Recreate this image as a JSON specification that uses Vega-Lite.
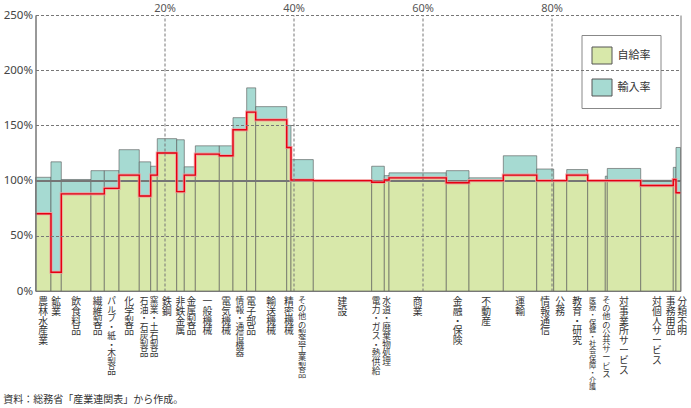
{
  "$schema": "https://vega.github.io/schema/vega-lite/v6.json",
  "width": 645,
  "height": 276,
  "autosize": "none",
  "padding": {"left": 35.5, "top": 15, "right": 10.5, "bottom": 117},
  "background": "white",
  "config": {
    "view": {"stroke": null},
    "axis": {"labelFont": "Noto Sans", "labelFontSize": 11.5, "labelColor": "#444", "gridColor": "#777", "gridWidth": 1, "domainColor": "#777", "ticks": false}
  },
  "title": {"text": "資料：総務省「産業連関表」から作成。", "orient": "bottom", "anchor": "start", "frame": "bounds", "fontSize": 10, "fontWeight": "normal", "color": "#333", "font": "Noto Sans CJK JP", "offset": 4},
  "data": {"values": [
    {"name": "農林水産業", "x0": 0, "x1": 2.40, "自給率": 70, "輸入率": 33},
    {"name": "鉱業", "x0": 2.40, "x1": 4.00, "自給率": 17, "輸入率": 100},
    {"name": "飲食料品", "x0": 4.00, "x1": 8.60, "自給率": 88, "輸入率": 13},
    {"name": "繊維製品", "x0": 8.60, "x1": 10.67, "自給率": 88, "輸入率": 21},
    {"name": "パルプ・紙・木製品", "x0": 10.67, "x1": 12.95, "自給率": 93, "輸入率": 16},
    {"name": "化学製品", "x0": 12.95, "x1": 16.09, "自給率": 105, "輸入率": 23},
    {"name": "石油・石炭製品", "x0": 16.09, "x1": 17.86, "自給率": 86, "輸入率": 31},
    {"name": "窯業・土石製品", "x0": 17.86, "x1": 18.88, "自給率": 105, "輸入率": 8},
    {"name": "鉄鋼", "x0": 18.88, "x1": 21.89, "自給率": 125, "輸入率": 13},
    {"name": "非鉄金属", "x0": 21.89, "x1": 23.07, "自給率": 90, "輸入率": 47},
    {"name": "金属製品", "x0": 23.07, "x1": 24.78, "自給率": 105, "輸入率": 7.5},
    {"name": "一般機械", "x0": 24.78, "x1": 28.50, "自給率": 124, "輸入率": 7.5},
    {"name": "電気機械", "x0": 28.50, "x1": 30.62, "自給率": 122.5, "輸入率": 9},
    {"name": "情報・通信機器", "x0": 30.62, "x1": 32.74, "自給率": 146, "輸入率": 11},
    {"name": "電子部品", "x0": 32.74, "x1": 34.14, "自給率": 162, "輸入率": 22},
    {"name": "輸送機械", "x0": 34.14, "x1": 38.95, "自給率": 155, "輸入率": 12},
    {"name": "精密機械", "x0": 38.95, "x1": 39.61, "自給率": 130, "輸入率": 20},
    {"name": "その他の製造工業製品", "x0": 39.61, "x1": 43.07, "自給率": 100.5, "輸入率": 18.5},
    {"name": "建設", "x0": 43.07, "x1": 52.12, "自給率": 100, "輸入率": 0},
    {"name": "電力・ガス・熱供給", "x0": 52.12, "x1": 54.08, "自給率": 98.5, "輸入率": 14.5},
    {"name": "水道・廃棄物処理", "x0": 54.08, "x1": 54.81, "自給率": 100.5, "輸入率": 4},
    {"name": "商業", "x0": 54.81, "x1": 63.69, "自給率": 102.5, "輸入率": 4.5},
    {"name": "金融・保険", "x0": 63.69, "x1": 67.21, "自給率": 98, "輸入率": 11},
    {"name": "不動産", "x0": 67.21, "x1": 72.53, "自給率": 100, "輸入率": 2.5},
    {"name": "運輸", "x0": 72.53, "x1": 77.71, "自給率": 105, "輸入率": 17.5},
    {"name": "情報通信", "x0": 77.71, "x1": 80.34, "自給率": 100, "輸入率": 10.5},
    {"name": "公務", "x0": 80.34, "x1": 82.36, "自給率": 100, "輸入率": 0},
    {"name": "教育・研究", "x0": 82.36, "x1": 85.61, "自給率": 105, "輸入率": 5},
    {"name": "医療・保健・社会保障・介護", "x0": 85.61, "x1": 88.34, "自給率": 100, "輸入率": 0},
    {"name": "その他の公共サービス", "x0": 88.34, "x1": 88.65, "自給率": 100, "輸入率": 4},
    {"name": "対事業所サービス", "x0": 88.65, "x1": 93.83, "自給率": 100, "輸入率": 11},
    {"name": "対個人サービス", "x0": 93.83, "x1": 98.88, "自給率": 95.5, "輸入率": 4.8},
    {"name": "事務用品", "x0": 98.88, "x1": 99.30, "自給率": 101, "輸入率": 11},
    {"name": "分類不明", "x0": 99.30, "x1": 100, "自給率": 89, "輸入率": 41}
  ]},
  "layer": [
    {
      "transform": [
        {"fold": ["自給率", "輸入率"], "as": ["key", "value"]},
        {"stack": "value", "groupby": ["name"], "sort": [{"field": "key", "order": "ascending"}], "as": ["v0", "v1"]}
      ],
      "mark": {"type": "rect", "stroke": "#555", "strokeOpacity": 0.6, "strokeWidth": 1},
      "encoding": {
        "x": {"field": "x0", "type": "quantitative", "title": null, "scale": {"domain": [0, 100], "nice": false},
          "axis": {"orient": "top", "values": [0, 20, 40, 60, 80, 100], "labelExpr": "datum.value > 0 && datum.value < 100 ? datum.value + '%' : ''", "domain": false, "grid": true, "zindex": 1, "labelPadding": 2, "labelFontSize": 11, "labelColor": "#555",
            "gridDash": {"condition": {"test": "datum.value === 0 || datum.value === 100", "value": []}, "value": [3, 2]}}},
        "x2": {"field": "x1"},
        "y": {"field": "v0", "type": "quantitative", "title": null, "scale": {"domain": [0, 250], "nice": false},
          "axis": {"values": [0, 50, 100, 150, 200, 250], "labelExpr": "datum.value + '%'", "domain": true, "grid": true, "zindex": 1, "labelPadding": 3,
            "gridDash": {"condition": {"test": "datum.value === 0", "value": []}, "value": [3, 2]},
            "gridOpacity": {"condition": {"test": "datum.value === 100", "value": 0}, "value": 1}}},
        "y2": {"field": "v1"},
        "color": {"field": "key", "type": "nominal", "scale": {"domain": ["自給率", "輸入率"], "range": ["#d8e8aa", "#a6dad2"]},
          "legend": {"title": null, "orient": "none", "legendX": 546, "legendY": 20, "direction": "vertical", "strokeColor": "#888", "fillColor": "white", "padding": 10,
            "symbolType": "M-1,-0.85H1V0.85H-1Z", "symbolSize": 400, "symbolStrokeColor": "#555", "symbolStrokeWidth": 1, "symbolOpacity": 1,
            "labelFont": "Noto Sans CJK JP", "labelFontSize": 11, "labelColor": "#333", "labelOffset": 5, "rowPadding": 11}}
      }
    },
    {
      "mark": {"type": "rule", "color": "#777", "strokeWidth": 1},
      "encoding": {"y": {"datum": 100}}
    },
    {
      "transform": [{"fold": ["x0", "x1"], "as": ["edge", "xpos"]}],
      "mark": {"type": "line", "color": "#f29a9a", "strokeWidth": 3.2, "opacity": 0.8},
      "encoding": {
        "x": {"field": "xpos", "type": "quantitative", "title": null},
        "y": {"field": "自給率", "type": "quantitative", "title": null},
        "order": [{"field": "xpos", "type": "quantitative"}, {"field": "edge", "type": "ordinal", "sort": "descending"}]
      }
    },
    {
      "transform": [{"fold": ["x0", "x1"], "as": ["edge", "xpos"]}],
      "mark": {"type": "line", "color": "#e60012", "strokeWidth": 1.4},
      "encoding": {
        "x": {"field": "xpos", "type": "quantitative", "title": null},
        "y": {"field": "自給率", "type": "quantitative", "title": null},
        "order": [{"field": "xpos", "type": "quantitative"}, {"field": "edge", "type": "ordinal", "sort": "descending"}]
      }
    },
    {
      "transform": [
        {"calculate": "(datum.x0 + datum.x1) / 2", "as": "mid"},
        {"calculate": "split(datum.name, '')", "as": "chars"}
      ],
      "mark": {"type": "text", "baseline": "top", "align": "center", "dy": 6, "color": "#333", "font": "Noto Sans CJK JP",
        "lineHeight": {"expr": "length(datum.name) >= 13 ? 7.2 : length(datum.name) >= 10 ? 8.2 : (length(datum.name) >= 7 && indexof(datum.name, '・') >= 0) ? 8.7 : 9.8"},
        "fontSize": {"expr": "length(datum.name) >= 13 ? 7.2 : length(datum.name) >= 10 ? 8.2 : (length(datum.name) >= 7 && indexof(datum.name, '・') >= 0) ? 8.7 : 9.8"},
        "dx": {"expr": "datum.name === '医療・保健・社会保障・介護' ? -4 : datum.name === '事務用品' ? -4 : datum.name === '分類不明' ? 4 : datum.name === '電力・ガス・熱供給' ? -2 : datum.name === '石油・石炭製品' ? -1 : datum.name === '金属製品' ? 1.5 : 0"}},
      "encoding": {
        "x": {"field": "mid", "type": "quantitative", "title": null},
        "y": {"datum": 0},
        "text": {"field": "chars"}
      }
    }
  ]
}
